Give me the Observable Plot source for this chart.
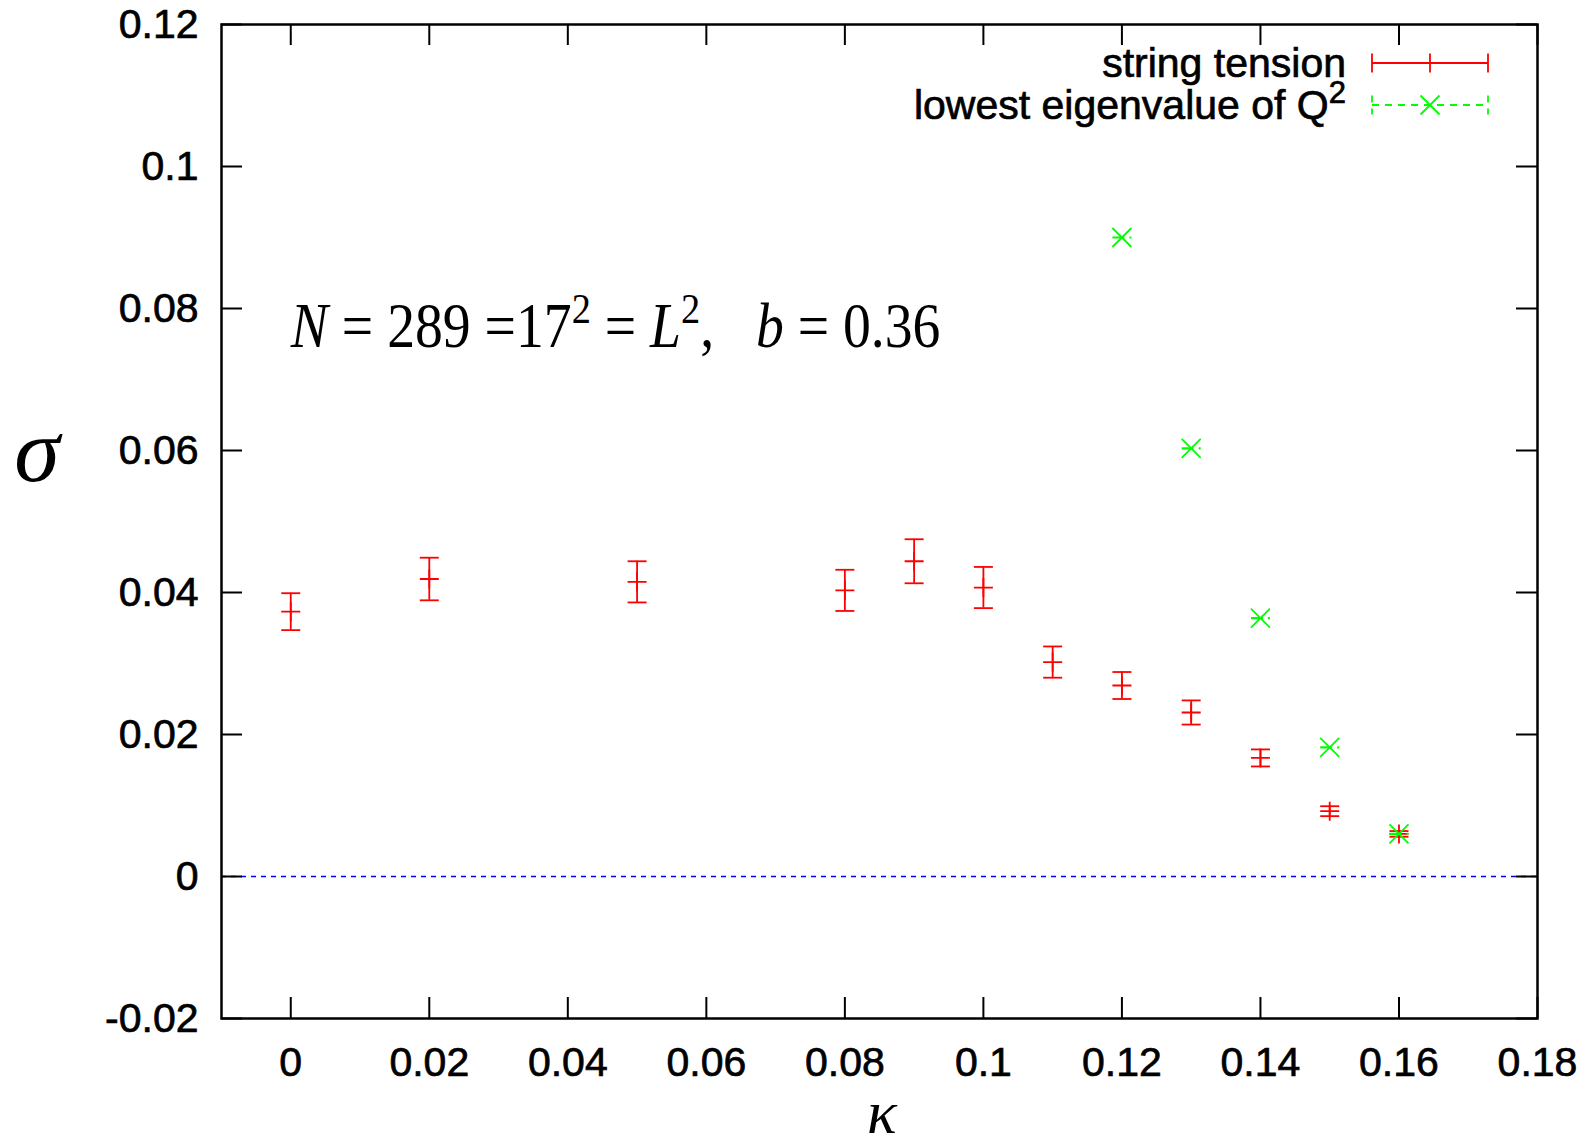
<!DOCTYPE html>
<html><head><meta charset="utf-8">
<script src="https://cdn.jsdelivr.net/npm/d3@7"></script>
<script src="https://cdn.jsdelivr.net/npm/@observablehq/plot@0.6"></script>
<style>
html,body{margin:0;padding:0;background:#fff;}
#chart{width:1589px;height:1145px;overflow:hidden;}
</style></head><body><div id="chart"></div>
<script>
// ---- data ----
const kappaST  = [0, 0.02, 0.05, 0.08, 0.09, 0.10, 0.11, 0.12, 0.13, 0.14, 0.15, 0.16];
const sigmaST  = [0.0373, 0.0419, 0.0415, 0.0403, 0.0444, 0.0407, 0.0302, 0.0269, 0.0231, 0.0167, 0.0092, 0.0060];
const errST    = [0.0026, 0.0030, 0.0029, 0.0029, 0.0031, 0.0029, 0.0022, 0.0019, 0.0017, 0.0012, 0.0007, 0.0004];
const kappaEV  = [0.12, 0.13, 0.14, 0.15, 0.16];
const lowestEV = [0.0900, 0.0603, 0.0364, 0.0182, 0.0060];
const xTicks = [0, 0.02, 0.04, 0.06, 0.08, 0.10, 0.12, 0.14, 0.16, 0.18];
const yTicks = [-0.02, 0, 0.02, 0.04, 0.06, 0.08, 0.10, 0.12];
const xDomain = [-0.01, 0.18];
const yDomain = [-0.02, 0.12];
const seriesNames = ["string tension", "lowest eigenvalue of Q"];
const seriesSup = ["", "2"];
const xLabel = "κ";
const yLabel = "σ";
// annotation: [text, italic, superscript]
const annotationParts = [
  ["N", true, false], [" = 289 =17", false, false], ["2", false, true],
  [" = ", false, false], ["L", true, false], ["2", false, true], [",", false, false],
  ["\u00a0\u00a0\u00a0", false, false], ["b", true, false], [" = 0.36", false, false]
];
const annotationAt = {x: 0, y: 0.0746};

// ---- layout ----
const W = 1589, H = 1145, mL = 221, mR = 52, mT = 24, mB = 127;
const plotW = W - mL - mR, plotH = H - mT - mB;
const TICK = 21, R = 9.5;
const RED = "#ff0000", GREEN = "#00ff00", BLUE = "#0000ff";
const SANS = "'Liberation Sans', Arial, Helvetica, sans-serif";
const SERIF = "'Liberation Serif', 'Times New Roman', serif";

const st = kappaST.map((k, i) => ({k, s: sigmaST[i], lo: sigmaST[i] - errST[i], hi: sigmaST[i] + errST[i]}));
const ev = kappaEV.map((k, i) => ({k, v: lowestEV[i]}));

const rad = size => Math.sqrt(size / Math.PI);
const hcap  = {draw(c, s){ const r = rad(s); c.moveTo(-r, 0); c.lineTo(r, 0); }};
const plus  = {draw(c, s){ const r = rad(s); c.moveTo(-r, 0); c.lineTo(r, 0); c.moveTo(0, -r); c.lineTo(0, r); }};
const times = {draw(c, s){ const r = rad(s); c.moveTo(-r, -r); c.lineTo(r, r); c.moveTo(-r, r); c.lineTo(r, -r); }};
const fmt = d => String(+d.toFixed(2));

const plot = Plot.plot({
  width: W, height: H,
  marginLeft: mL, marginRight: mR, marginTop: mT, marginBottom: mB,
  style: {fontFamily: SANS, background: "#fff", overflow: "visible"},
  x: {domain: xDomain},
  y: {domain: yDomain},
  marks: [
    Plot.ruleY([0], {stroke: BLUE, strokeWidth: 1.3, strokeDasharray: "5,5"}),
    // error bars
    Plot.ruleX(st, {x: "k", y1: "lo", y2: "hi", stroke: RED, strokeWidth: 1.8}),
    Plot.dot(st, {x: "k", y: "lo", symbol: hcap, r: R, stroke: RED, fill: "none", strokeWidth: 1.8}),
    Plot.dot(st, {x: "k", y: "hi", symbol: hcap, r: R, stroke: RED, fill: "none", strokeWidth: 1.8}),
    Plot.dot(st, {x: "k", y: "s", symbol: plus, r: R, stroke: RED, fill: "none", strokeWidth: 1.8}),
    Plot.dot(ev, {x: "k", y: "v", symbol: hcap, r: R, stroke: GREEN, fill: "none", strokeWidth: 2.2, strokeDasharray: "12,5"}),
    Plot.dot(ev, {x: "k", y: "v", symbol: times, r: R, stroke: GREEN, fill: "none", strokeWidth: 1.8}),
    // inward ticks on all four sides
    Plot.tickX(xTicks, {x: d => d, insetTop: plotH - TICK, stroke: "#000", strokeWidth: 2}),
    Plot.tickX(xTicks, {x: d => d, insetBottom: plotH - TICK, stroke: "#000", strokeWidth: 2}),
    Plot.tickY(yTicks, {y: d => d, insetRight: plotW - TICK, stroke: "#000", strokeWidth: 2}),
    Plot.tickY(yTicks, {y: d => d, insetLeft: plotW - TICK, stroke: "#000", strokeWidth: 2}),
    Plot.axisX(xTicks, {tickSize: 0, tickPadding: 28, tickFormat: fmt, fontSize: 41, label: null, fill: "#000"}),
    Plot.axisY(yTicks, {tickSize: 0, tickPadding: 23, tickFormat: fmt, fontSize: 41, label: null, fill: "#000"}),
    Plot.frame({stroke: "#000", strokeWidth: 2.5}),
    Plot.text([annotationAt], {x: "x", y: "y", text: () => "annotation", textAnchor: "start", lineAnchor: "bottom", fontFamily: SERIF, fontSize: 58, fill: "#000"})
  ]
});
document.getElementById("chart").appendChild(plot);

const svg = d3.select(plot);
// heavier sans text, like the reference
svg.selectAll('g[aria-label="x-axis tick label"] text, g[aria-label="y-axis tick label"] text')
  .style("stroke", "#000").style("stroke-width", "0.7px");

// rebuild the annotation text with italic letters and superscripts, slightly condensed
const ann = svg.selectAll("text").filter(function(){ return this.textContent === "annotation"; });
ann.each(function(){
  const t = d3.select(this);
  t.text(null);
  annotationParts.forEach(([s, it, sup]) => {
    const sp = t.append("tspan").text(s);
    if (it) sp.attr("font-style", "italic");
    if (sup) sp.attr("font-size", 40).attr("baseline-shift", "23");
  });
  let tr = t.attr("transform") || "";
  const x = t.attr("x"), y = t.attr("y");
  if (x != null || y != null) {
    tr = `translate(${+x || 0},${+y || 0}) ` + tr;
    t.attr("x", null).attr("y", null);
  }
  t.attr("transform", tr + " scale(0.96,1.08)");
});

// axis labels
svg.append("text").attr("x", 37).attr("y", 450).attr("text-anchor", "middle").attr("dominant-baseline", "central")
  .attr("font-family", SERIF).attr("font-style", "italic").attr("font-size", 92).text(yLabel);
svg.append("text").attr("x", 882).attr("y", 1133).attr("text-anchor", "middle")
  .attr("font-family", SERIF).attr("font-style", "italic").attr("font-size", 62).text(xLabel);

// legend (inside the frame, top right)
const LX0 = 1372, LX1 = 1488, LXT = 1346;
const rows = [63, 105];
const lg = svg.append("g");
seriesNames.forEach((name, i) => {
  const y = rows[i];
  const t = lg.append("text").attr("x", LXT).attr("y", y + 14).attr("text-anchor", "end")
    .attr("font-family", SANS).attr("font-size", 41).attr("fill", "#000")
    .style("stroke", "#000").style("stroke-width", "0.7px").text(name);
  if (seriesSup[i]) t.append("tspan").attr("font-size", 31).attr("baseline-shift", "16").text(seriesSup[i]);
  const col = i === 0 ? RED : GREEN;
  const dash = i === 0 ? null : "7,6";
  lg.append("line").attr("x1", LX0).attr("x2", LX1).attr("y1", y).attr("y2", y)
    .attr("stroke", col).attr("stroke-width", 1.8).attr("stroke-dasharray", dash);
  [LX0, LX1].forEach(x => lg.append("line").attr("x1", x).attr("x2", x).attr("y1", y - R).attr("y2", y + R)
    .attr("stroke", col).attr("stroke-width", 1.8).attr("stroke-dasharray", dash));
  const cx = (LX0 + LX1) / 2;
  const p = i === 0
    ? `M${cx - R},${y}L${cx + R},${y}M${cx},${y - R}L${cx},${y + R}`
    : `M${cx - R},${y - R}L${cx + R},${y + R}M${cx - R},${y + R}L${cx + R},${y - R}`;
  lg.append("path").attr("d", p).attr("stroke", col).attr("stroke-width", 1.8).attr("fill", "none");
});
</script>
</body></html>
